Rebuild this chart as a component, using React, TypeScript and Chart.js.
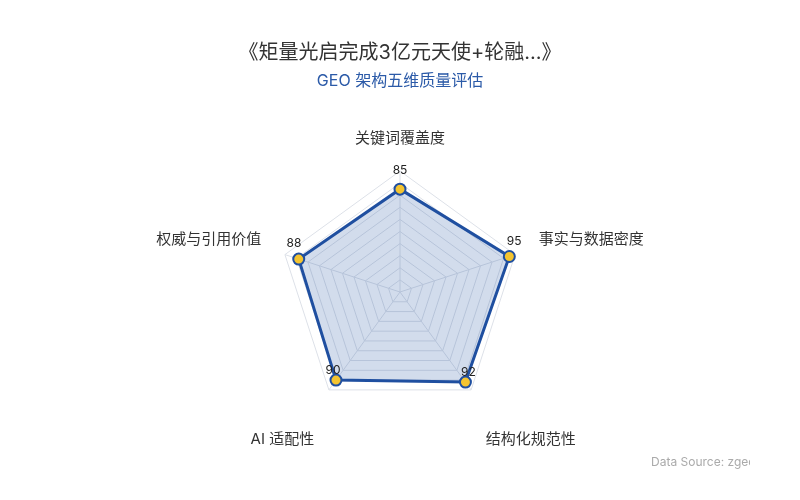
import React, { useEffect, useRef } from "react";
import { Chart, registerables } from "chart.js";

Chart.register(...registerables);

const TITLE = "《矩量光启完成3亿元天使+轮融...》";
const SUBTITLE = "GEO 架构五维质量评估";
const DIMENSIONS = ["关键词覆盖度", "事实与数据密度", "结构化规范性", "AI 适配性", "权威与引用价值"];
const SCORES = [85, 95, 92, 90, 88];
const SCALE_MIN = 0;
const SCALE_MAX = 100;
const SCALE_STEP = 10;
const SOURCE = "Data Source: zgeo";

const FONT = "Inter, 'Noto Sans CJK SC', 'Noto Sans', sans-serif";
const BLUE = "#1f4fa0";

const overlay = {
  id: "overlay",
  afterDatasetsDraw(chart: any) {
    const ctx = chart.ctx;
    const scale = chart.scales.r;
    ctx.save();
    // value labels
    ctx.font = `12px ${FONT}`;
    ctx.fillStyle = "#222";
    ctx.textAlign = "center";
    ctx.textBaseline = "middle";
    SCORES.forEach((v, i) => {
      const p = scale.getPointPosition(i, scale.getDistanceFromCenterForValue(v) + 5);
      ctx.fillText(String(v), p.x, p.y - 14);
    });
    // axis names
    ctx.font = `15px ${FONT}`;
    ctx.fillStyle = "#333";
    DIMENSIONS.forEach((name, i) => {
      const p = scale.getPointPosition(i, scale.drawingArea + 25);
      const dx = p.x - scale.xCenter;
      const dy = p.y - scale.yCenter;
      ctx.textAlign = Math.abs(dx) < 1 ? "center" : dx > 0 ? "left" : "right";
      let y = p.y;
      if (dy < 0) {
        ctx.textBaseline = "bottom";
      } else {
        ctx.textBaseline = "top";
        y = p.y + 22;
      }
      ctx.fillText(name, p.x, y);
    });
    // source
    ctx.beginPath();
    ctx.rect(0, 0, chart.width - 50, chart.height);
    ctx.clip();
    ctx.font = `12px ${FONT}`;
    ctx.fillStyle = "#aaa";
    ctx.textAlign = "left";
    ctx.textBaseline = "middle";
    ctx.fillText(SOURCE, chart.width - 149, chart.height - 38);
    ctx.restore();
  },
};

export default function App() {
  const ref = useRef<HTMLCanvasElement | null>(null);
  useEffect(() => {
    if (!ref.current) return;
    const chart = new Chart(ref.current, {
      type: "radar",
      data: {
        labels: DIMENSIONS,
        datasets: [
          {
            data: SCORES,
            borderColor: BLUE,
            backgroundColor: "rgba(31,79,160,0.2)",
            borderWidth: 3,
            fill: true,
            pointRadius: 5.5,
            pointBackgroundColor: "#f4c430",
            pointBorderColor: BLUE,
            pointBorderWidth: 2,
          },
        ],
      },
      options: {
        responsive: false,
        animation: false,
        layout: { padding: { top: 0, bottom: 87, left: 0, right: 0 } },
        elements: { line: { tension: 0 } },
        plugins: {
          legend: { display: false },
          tooltip: { enabled: false },
          title: {
            display: true,
            text: TITLE,
            color: "#333",
            font: { size: 20, family: FONT, weight: "normal" },
            padding: { top: 41, bottom: 6 },
          },
          subtitle: {
            display: true,
            text: SUBTITLE,
            color: "#2b5aa8",
            font: { size: 16, family: FONT, weight: "normal" },
            padding: { top: 0.4, bottom: 80.4 },
          },
        },
        scales: {
          r: {
            min: SCALE_MIN,
            max: SCALE_MAX,
            ticks: { stepSize: SCALE_STEP, display: false },
            pointLabels: { display: false },
            grid: { color: "#dde1e8" },
            angleLines: { color: "#dde1e8" },
          },
        },
      },
      plugins: [overlay],
    } as any);
    return () => chart.destroy();
  }, []);
  return (
    <div style={{ position: "absolute", left: 0, top: 0, width: 800, height: 500, background: "#fff" }}>
      <canvas ref={ref} width={800} height={500} style={{ width: 800, height: 500 }} />
    </div>
  );
}
